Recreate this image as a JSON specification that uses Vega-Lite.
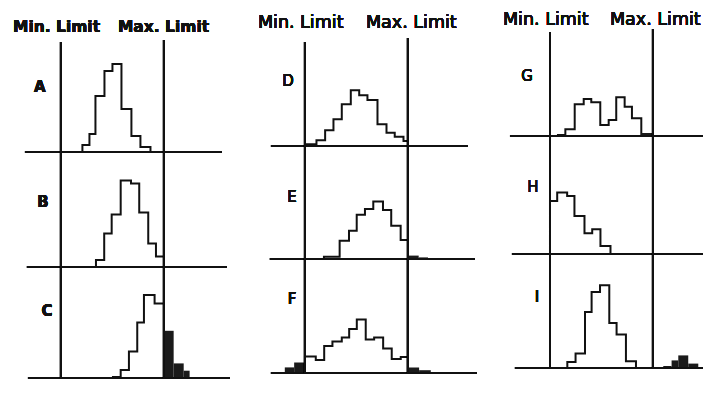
{
"$schema":"https://vega.github.io/schema/vega-lite/v6.json",
"padding":0,
"background":"white",
"config":{"view":{"stroke":null}},
"spacing":0,
"hconcat":[
{"vconcat":[
{"width":240,"height":152,
"data":{"values":[
{"x":2.5,"x2":3.32,"h":3.5,"out":false},{"x":3.32,"x2":4.02,"h":9,"out":false},{"x":4.02,"x2":5.07,"h":28,"out":false},{"x":5.07,"x2":6.0,"h":40.5,"out":false},{"x":6.0,"x2":7.05,"h":44,"out":false},{"x":7.05,"x2":8.21,"h":21.5,"out":false},{"x":8.21,"x2":9.26,"h":8,"out":false},{"x":9.26,"x2":10.43,"h":2.5,"out":false}]},
"layer":[
{"transform":[{"filter":"!datum.out"},{"fold":["x","x2"],"as":["k","pos"]}],"mark":{"type":"area","orient":"vertical","fill":"white","fillOpacity":0,"stroke":"#111","strokeWidth":2},"encoding":{"x":{"field":"pos","type":"quantitative","scale":{"domain":[-7.1,20.86],"nice":false,"zero":false},"axis":null},"y":{"field":"h","type":"quantitative","stack":null,"scale":{"domain":[0,76],"nice":false,"zero":false},"axis":null}}},
{"transform":[{"filter":"datum.out"}],"mark":{"type":"rect","fill":"#1a1a1a"},"encoding":{"x":{"field":"x","type":"quantitative","scale":{"domain":[-7.1,20.86],"nice":false,"zero":false},"axis":null},"x2":{"field":"x2"},"y":{"field":"h","type":"quantitative","scale":{"domain":[0,76],"nice":false,"zero":false},"axis":null},"y2":{"datum":0}}},
{"mark":{"type":"rule","stroke":"#111","strokeWidth":2},"encoding":{"x":{"datum":-4.19,"scale":{"domain":[-7.1,20.86],"nice":false,"zero":false},"axis":null},"x2":{"datum":18.76},"y":{"datum":0,"scale":{"domain":[0,76],"nice":false,"zero":false},"axis":null}}},
{"mark":{"type":"rule","stroke":"#111","strokeWidth":2},"encoding":{"x":{"datum":0,"scale":{"domain":[-7.1,20.86],"nice":false,"zero":false},"axis":null},"y":{"datum":0,"scale":{"domain":[0,76],"nice":false,"zero":false},"axis":null},"y2":{"datum":55}}},
{"mark":{"type":"rule","stroke":"#111","strokeWidth":2},"encoding":{"x":{"datum":12,"scale":{"domain":[-7.1,20.86],"nice":false,"zero":false},"axis":null},"y":{"datum":0,"scale":{"domain":[0,76],"nice":false,"zero":false},"axis":null},"y2":{"datum":56}}},
{"mark":{"type":"text","text":"A","font":"DejaVu Sans","fontSize":15,"fontWeight":"bold","align":"center","baseline":"middle","fill":"#111"},"encoding":{"x":{"datum":-2.45,"scale":{"domain":[-7.1,20.86],"nice":false,"zero":false},"axis":null},"y":{"datum":32.5,"scale":{"domain":[0,76],"nice":false,"zero":false},"axis":null}}},
{"mark":{"type":"text","text":"Min. Limit","font":"DejaVu Sans","fontSize":15.5,"fontWeight":"bold","align":"left","baseline":"alphabetic","fill":"#111"},"encoding":{"x":{"datum":-5.59,"scale":{"domain":[-7.1,20.86],"nice":false,"zero":false},"axis":null},"y":{"datum":60,"scale":{"domain":[0,76],"nice":false,"zero":false},"axis":null}}},
{"mark":{"type":"text","text":"Max. Limit","font":"DejaVu Sans","fontSize":15.5,"fontWeight":"bold","align":"left","baseline":"alphabetic","fill":"#111"},"encoding":{"x":{"datum":6.64,"scale":{"domain":[-7.1,20.86],"nice":false,"zero":false},"axis":null},"y":{"datum":60,"scale":{"domain":[0,76],"nice":false,"zero":false},"axis":null}}}
]},
{"width":240,"height":115,
"data":{"values":[
{"x":4.08,"x2":5.04,"h":3.5,"out":false},{"x":5.04,"x2":5.91,"h":16.7,"out":false},{"x":5.91,"x2":6.96,"h":26.3,"out":false},{"x":6.96,"x2":8.16,"h":43.3,"out":false},{"x":8.16,"x2":9.12,"h":41.8,"out":false},{"x":9.12,"x2":10.17,"h":27.2,"out":false},{"x":10.17,"x2":11.07,"h":11.7,"out":false},{"x":11.07,"x2":12.0,"h":5.2,"out":false}]},
"layer":[
{"transform":[{"filter":"!datum.out"},{"fold":["x","x2"],"as":["k","pos"]}],"mark":{"type":"area","orient":"vertical","fill":"white","fillOpacity":0,"stroke":"#111","strokeWidth":2},"encoding":{"x":{"field":"pos","type":"quantitative","scale":{"domain":[-7.1,20.86],"nice":false,"zero":false},"axis":null},"y":{"field":"h","type":"quantitative","stack":null,"scale":{"domain":[0,57.5],"nice":false,"zero":false},"axis":null}}},
{"transform":[{"filter":"datum.out"}],"mark":{"type":"rect","fill":"#1a1a1a"},"encoding":{"x":{"field":"x","type":"quantitative","scale":{"domain":[-7.1,20.86],"nice":false,"zero":false},"axis":null},"x2":{"field":"x2"},"y":{"field":"h","type":"quantitative","scale":{"domain":[0,57.5],"nice":false,"zero":false},"axis":null},"y2":{"datum":0}}},
{"mark":{"type":"rule","stroke":"#111","strokeWidth":2},"encoding":{"x":{"datum":-3.96,"scale":{"domain":[-7.1,20.86],"nice":false,"zero":false},"axis":null},"x2":{"datum":19.34},"y":{"datum":0,"scale":{"domain":[0,57.5],"nice":false,"zero":false},"axis":null}}},
{"mark":{"type":"rule","stroke":"#111","strokeWidth":2},"encoding":{"x":{"datum":0,"scale":{"domain":[-7.1,20.86],"nice":false,"zero":false},"axis":null},"y":{"datum":0,"scale":{"domain":[0,57.5],"nice":false,"zero":false},"axis":null},"y2":{"datum":57.5}}},
{"mark":{"type":"rule","stroke":"#111","strokeWidth":2},"encoding":{"x":{"datum":12,"scale":{"domain":[-7.1,20.86],"nice":false,"zero":false},"axis":null},"y":{"datum":0,"scale":{"domain":[0,57.5],"nice":false,"zero":false},"axis":null},"y2":{"datum":57.5}}},
{"mark":{"type":"text","text":"B","font":"DejaVu Sans","fontSize":15,"fontWeight":"bold","align":"center","baseline":"middle","fill":"#111"},"encoding":{"x":{"datum":-2.1,"scale":{"domain":[-7.1,20.86],"nice":false,"zero":false},"axis":null},"y":{"datum":32.5,"scale":{"domain":[0,57.5],"nice":false,"zero":false},"axis":null}}}
]},
{"width":240,"height":111,
"data":{"values":[
{"x":6.06,"x2":6.96,"h":0.5,"out":false},{"x":6.96,"x2":7.92,"h":4,"out":false},{"x":7.92,"x2":8.89,"h":13.2,"out":false},{"x":8.89,"x2":9.67,"h":27.7,"out":false},{"x":9.67,"x2":10.91,"h":41.5,"out":false},{"x":10.91,"x2":12.0,"h":37.2,"out":false},
{"x":12.0,"x2":13.13,"h":23.6,"out":true},{"x":13.13,"x2":14.3,"h":7.3,"out":true},{"x":14.3,"x2":14.99,"h":3.65,"out":true}]},
"layer":[
{"transform":[{"filter":"!datum.out"},{"fold":["x","x2"],"as":["k","pos"]}],"mark":{"type":"area","orient":"vertical","fill":"white","fillOpacity":0,"stroke":"#111","strokeWidth":2},"encoding":{"x":{"field":"pos","type":"quantitative","scale":{"domain":[-7.1,20.86],"nice":false,"zero":false},"axis":null},"y":{"field":"h","type":"quantitative","stack":null,"scale":{"domain":[0,55.5],"nice":false,"zero":false},"axis":null}}},
{"transform":[{"filter":"datum.out"}],"mark":{"type":"rect","fill":"#1a1a1a"},"encoding":{"x":{"field":"x","type":"quantitative","scale":{"domain":[-7.1,20.86],"nice":false,"zero":false},"axis":null},"x2":{"field":"x2"},"y":{"field":"h","type":"quantitative","scale":{"domain":[0,55.5],"nice":false,"zero":false},"axis":null},"y2":{"datum":0}}},
{"mark":{"type":"rule","stroke":"#111","strokeWidth":2},"encoding":{"x":{"datum":-3.84,"scale":{"domain":[-7.1,20.86],"nice":false,"zero":false},"axis":null},"x2":{"datum":19.69},"y":{"datum":0,"scale":{"domain":[0,55.5],"nice":false,"zero":false},"axis":null}}},
{"mark":{"type":"rule","stroke":"#111","strokeWidth":2},"encoding":{"x":{"datum":0,"scale":{"domain":[-7.1,20.86],"nice":false,"zero":false},"axis":null},"y":{"datum":0,"scale":{"domain":[0,55.5],"nice":false,"zero":false},"axis":null},"y2":{"datum":55.5}}},
{"mark":{"type":"rule","stroke":"#111","strokeWidth":2},"encoding":{"x":{"datum":12,"scale":{"domain":[-7.1,20.86],"nice":false,"zero":false},"axis":null},"y":{"datum":0,"scale":{"domain":[0,55.5],"nice":false,"zero":false},"axis":null},"y2":{"datum":55.5}}},
{"mark":{"type":"text","text":"C","font":"DejaVu Sans","fontSize":15,"fontWeight":"bold","align":"center","baseline":"middle","fill":"#111"},"encoding":{"x":{"datum":-1.63,"scale":{"domain":[-7.1,20.86],"nice":false,"zero":false},"axis":null},"y":{"datum":33.5,"scale":{"domain":[0,55.5],"nice":false,"zero":false},"axis":null}}}
]}
],"spacing":0,"bounds":"flush"},
{"vconcat":[
{"width":250,"height":146,
"data":{"values":[
{"x":0,"x2":1.34,"h":0.85,"out":false},{"x":1.34,"x2":2.35,"h":2.85,"out":false},{"x":2.35,"x2":3.32,"h":7.85,"out":false},{"x":3.32,"x2":4.29,"h":13.35,"out":false},{"x":4.29,"x2":5.34,"h":20.85,"out":false},{"x":5.34,"x2":6.32,"h":27.85,"out":false},{"x":6.32,"x2":7.28,"h":25.35,"out":false},{"x":7.28,"x2":8.45,"h":23,"out":false},{"x":8.45,"x2":9.5,"h":10.85,"out":false},{"x":9.5,"x2":10.46,"h":6.65,"out":false},{"x":10.46,"x2":11.48,"h":4.65,"out":false},{"x":11.48,"x2":12.0,"h":2.5,"out":false}]},
"layer":[
{"transform":[{"filter":"!datum.out"},{"fold":["x","x2"],"as":["k","pos"]}],"mark":{"type":"area","orient":"vertical","fill":"white","fillOpacity":0,"stroke":"#111","strokeWidth":2},"encoding":{"x":{"field":"pos","type":"quantitative","scale":{"domain":[-7.57,21.56],"nice":false,"zero":false},"axis":null},"y":{"field":"h","type":"quantitative","stack":null,"scale":{"domain":[0,73],"nice":false,"zero":false},"axis":null}}},
{"transform":[{"filter":"datum.out"}],"mark":{"type":"rect","fill":"#1a1a1a"},"encoding":{"x":{"field":"x","type":"quantitative","scale":{"domain":[-7.57,21.56],"nice":false,"zero":false},"axis":null},"x2":{"field":"x2"},"y":{"field":"h","type":"quantitative","scale":{"domain":[0,73],"nice":false,"zero":false},"axis":null},"y2":{"datum":0}}},
{"mark":{"type":"rule","stroke":"#111","strokeWidth":2},"encoding":{"x":{"datum":-3.96,"scale":{"domain":[-7.57,21.56],"nice":false,"zero":false},"axis":null},"x2":{"datum":18.99},"y":{"datum":0,"scale":{"domain":[0,73],"nice":false,"zero":false},"axis":null}}},
{"mark":{"type":"rule","stroke":"#111","strokeWidth":2},"encoding":{"x":{"datum":0,"scale":{"domain":[-7.57,21.56],"nice":false,"zero":false},"axis":null},"y":{"datum":0,"scale":{"domain":[0,73],"nice":false,"zero":false},"axis":null},"y2":{"datum":52}}},
{"mark":{"type":"rule","stroke":"#111","strokeWidth":2},"encoding":{"x":{"datum":12,"scale":{"domain":[-7.57,21.56],"nice":false,"zero":false},"axis":null},"y":{"datum":0,"scale":{"domain":[0,73],"nice":false,"zero":false},"axis":null},"y2":{"datum":54}}},
{"mark":{"type":"text","text":"D","font":"DejaVu Sans","fontSize":15,"align":"center","baseline":"middle","fill":"#111"},"encoding":{"x":{"datum":-1.98,"scale":{"domain":[-7.57,21.56],"nice":false,"zero":false},"axis":null},"y":{"datum":32.5,"scale":{"domain":[0,73],"nice":false,"zero":false},"axis":null}}},
{"mark":{"type":"text","text":"Min. Limit","font":"DejaVu Sans","fontSize":17.5,"align":"left","baseline":"alphabetic","fill":"#111"},"encoding":{"x":{"datum":-5.48,"scale":{"domain":[-7.57,21.56],"nice":false,"zero":false},"axis":null},"y":{"datum":59,"scale":{"domain":[0,73],"nice":false,"zero":false},"axis":null}}},
{"mark":{"type":"text","text":"Max. Limit","font":"DejaVu Sans","fontSize":17.5,"align":"left","baseline":"alphabetic","fill":"#111"},"encoding":{"x":{"datum":7.11,"scale":{"domain":[-7.57,21.56],"nice":false,"zero":false},"axis":null},"y":{"datum":59,"scale":{"domain":[0,73],"nice":false,"zero":false},"axis":null}}}
]},
{"width":250,"height":113,
"data":{"values":[
{"x":2.21,"x2":4.04,"h":1.15,"out":false},{"x":4.04,"x2":5.13,"h":9.15,"out":false},{"x":5.13,"x2":6.03,"h":14.15,"out":false},{"x":6.03,"x2":6.99,"h":22.15,"out":false},{"x":6.99,"x2":7.96,"h":25,"out":false},{"x":7.96,"x2":9.09,"h":28.8,"out":false},{"x":9.09,"x2":10.05,"h":24.5,"out":false},{"x":10.05,"x2":11.15,"h":16.65,"out":false},{"x":11.15,"x2":12.0,"h":9.5,"out":false},
{"x":12.0,"x2":13.25,"h":1.7,"out":true},{"x":13.25,"x2":14.33,"h":0.8,"out":true}]},
"layer":[
{"transform":[{"filter":"!datum.out"},{"fold":["x","x2"],"as":["k","pos"]}],"mark":{"type":"area","orient":"vertical","fill":"white","fillOpacity":0,"stroke":"#111","strokeWidth":2},"encoding":{"x":{"field":"pos","type":"quantitative","scale":{"domain":[-7.57,21.56],"nice":false,"zero":false},"axis":null},"y":{"field":"h","type":"quantitative","stack":null,"scale":{"domain":[0,56.5],"nice":false,"zero":false},"axis":null}}},
{"transform":[{"filter":"datum.out"}],"mark":{"type":"rect","fill":"#1a1a1a"},"encoding":{"x":{"field":"x","type":"quantitative","scale":{"domain":[-7.57,21.56],"nice":false,"zero":false},"axis":null},"x2":{"field":"x2"},"y":{"field":"h","type":"quantitative","scale":{"domain":[0,56.5],"nice":false,"zero":false},"axis":null},"y2":{"datum":0}}},
{"mark":{"type":"rule","stroke":"#111","strokeWidth":2},"encoding":{"x":{"datum":-4.08,"scale":{"domain":[-7.57,21.56],"nice":false,"zero":false},"axis":null},"x2":{"datum":19.8},"y":{"datum":0,"scale":{"domain":[0,56.5],"nice":false,"zero":false},"axis":null}}},
{"mark":{"type":"rule","stroke":"#111","strokeWidth":2},"encoding":{"x":{"datum":0,"scale":{"domain":[-7.57,21.56],"nice":false,"zero":false},"axis":null},"y":{"datum":0,"scale":{"domain":[0,56.5],"nice":false,"zero":false},"axis":null},"y2":{"datum":56.5}}},
{"mark":{"type":"rule","stroke":"#111","strokeWidth":2},"encoding":{"x":{"datum":12,"scale":{"domain":[-7.57,21.56],"nice":false,"zero":false},"axis":null},"y":{"datum":0,"scale":{"domain":[0,56.5],"nice":false,"zero":false},"axis":null},"y2":{"datum":56.5}}},
{"mark":{"type":"text","text":"E","font":"DejaVu Sans","fontSize":15,"align":"center","baseline":"middle","fill":"#111"},"encoding":{"x":{"datum":-1.51,"scale":{"domain":[-7.57,21.56],"nice":false,"zero":false},"axis":null},"y":{"datum":31,"scale":{"domain":[0,56.5],"nice":false,"zero":false},"axis":null}}}
]},
{"width":250,"height":114,
"data":{"values":[
{"x":0,"x2":1.26,"h":8.2,"out":false},{"x":1.26,"x2":2.24,"h":6.5,"out":false},{"x":2.24,"x2":3.2,"h":13.5,"out":false},{"x":3.2,"x2":4.29,"h":15.7,"out":false},{"x":4.29,"x2":5.15,"h":17.8,"out":false},{"x":5.15,"x2":6.04,"h":22,"out":false},{"x":6.04,"x2":7.08,"h":26.8,"out":false},{"x":7.08,"x2":8.06,"h":16.8,"out":false},{"x":8.06,"x2":9.11,"h":17.8,"out":false},{"x":9.11,"x2":10.11,"h":12.3,"out":false},{"x":10.11,"x2":11.16,"h":7,"out":false},{"x":11.16,"x2":12.0,"h":8,"out":false},
{"x":-2.35,"x2":-1.26,"h":2.8,"out":true},{"x":-1.26,"x2":0,"h":5.3,"out":true},{"x":12.0,"x2":13.3,"h":2.8,"out":true},{"x":13.3,"x2":14.66,"h":1.4,"out":true}]},
"layer":[
{"transform":[{"filter":"!datum.out"},{"fold":["x","x2"],"as":["k","pos"]}],"mark":{"type":"area","orient":"vertical","fill":"white","fillOpacity":0,"stroke":"#111","strokeWidth":2},"encoding":{"x":{"field":"pos","type":"quantitative","scale":{"domain":[-7.57,21.56],"nice":false,"zero":false},"axis":null},"y":{"field":"h","type":"quantitative","stack":null,"scale":{"domain":[0,57],"nice":false,"zero":false},"axis":null}}},
{"transform":[{"filter":"datum.out"}],"mark":{"type":"rect","fill":"#1a1a1a"},"encoding":{"x":{"field":"x","type":"quantitative","scale":{"domain":[-7.57,21.56],"nice":false,"zero":false},"axis":null},"x2":{"field":"x2"},"y":{"field":"h","type":"quantitative","scale":{"domain":[0,57],"nice":false,"zero":false},"axis":null},"y2":{"datum":0}}},
{"mark":{"type":"rule","stroke":"#111","strokeWidth":2},"encoding":{"x":{"datum":-3.96,"scale":{"domain":[-7.57,21.56],"nice":false,"zero":false},"axis":null},"x2":{"datum":20.04},"y":{"datum":0,"scale":{"domain":[0,57],"nice":false,"zero":false},"axis":null}}},
{"mark":{"type":"rule","stroke":"#111","strokeWidth":2},"encoding":{"x":{"datum":0,"scale":{"domain":[-7.57,21.56],"nice":false,"zero":false},"axis":null},"y":{"datum":0,"scale":{"domain":[0,57],"nice":false,"zero":false},"axis":null},"y2":{"datum":57}}},
{"mark":{"type":"rule","stroke":"#111","strokeWidth":2},"encoding":{"x":{"datum":12,"scale":{"domain":[-7.57,21.56],"nice":false,"zero":false},"axis":null},"y":{"datum":0,"scale":{"domain":[0,57],"nice":false,"zero":false},"axis":null},"y2":{"datum":57}}},
{"mark":{"type":"text","text":"F","font":"DejaVu Sans","fontSize":15,"align":"center","baseline":"middle","fill":"#111"},"encoding":{"x":{"datum":-1.51,"scale":{"domain":[-7.57,21.56],"nice":false,"zero":false},"axis":null},"y":{"datum":37,"scale":{"domain":[0,57],"nice":false,"zero":false},"axis":null}}}
]}
],"spacing":0,"bounds":"flush"},
{"vconcat":[
{"width":213,"height":136,
"data":{"values":[
{"x":0.93,"x2":1.79,"h":0.5,"out":false},{"x":1.79,"x2":2.88,"h":3.35,"out":false},{"x":2.88,"x2":3.93,"h":15.85,"out":false},{"x":3.93,"x2":4.81,"h":18.5,"out":false},{"x":4.81,"x2":5.86,"h":16.85,"out":false},{"x":5.86,"x2":6.84,"h":5.5,"out":false},{"x":6.84,"x2":7.72,"h":8,"out":false},{"x":7.72,"x2":8.7,"h":19.35,"out":false},{"x":8.7,"x2":9.55,"h":14.65,"out":false},{"x":9.55,"x2":10.64,"h":8.85,"out":false},
{"x":10.64,"x2":12.0,"h":1.5,"out":true}]},
"layer":[
{"transform":[{"filter":"!datum.out"},{"fold":["x","x2"],"as":["k","pos"]}],"mark":{"type":"area","orient":"vertical","fill":"white","fillOpacity":0,"stroke":"#111","strokeWidth":2},"encoding":{"x":{"field":"pos","type":"quantitative","scale":{"domain":[-6.99,17.83],"nice":false,"zero":false},"axis":null},"y":{"field":"h","type":"quantitative","stack":null,"scale":{"domain":[0,68],"nice":false,"zero":false},"axis":null}}},
{"transform":[{"filter":"datum.out"}],"mark":{"type":"rect","fill":"#1a1a1a"},"encoding":{"x":{"field":"x","type":"quantitative","scale":{"domain":[-6.99,17.83],"nice":false,"zero":false},"axis":null},"x2":{"field":"x2"},"y":{"field":"h","type":"quantitative","scale":{"domain":[0,68],"nice":false,"zero":false},"axis":null},"y2":{"datum":0}}},
{"mark":{"type":"rule","stroke":"#111","strokeWidth":2},"encoding":{"x":{"datum":-4.66,"scale":{"domain":[-6.99,17.83],"nice":false,"zero":false},"axis":null},"x2":{"datum":17.83},"y":{"datum":0,"scale":{"domain":[0,68],"nice":false,"zero":false},"axis":null}}},
{"mark":{"type":"rule","stroke":"#111","strokeWidth":2},"encoding":{"x":{"datum":0,"scale":{"domain":[-6.99,17.83],"nice":false,"zero":false},"axis":null},"y":{"datum":0,"scale":{"domain":[0,68],"nice":false,"zero":false},"axis":null},"y2":{"datum":52}}},
{"mark":{"type":"rule","stroke":"#111","strokeWidth":2},"encoding":{"x":{"datum":12,"scale":{"domain":[-6.99,17.83],"nice":false,"zero":false},"axis":null},"y":{"datum":0,"scale":{"domain":[0,68],"nice":false,"zero":false},"axis":null},"y2":{"datum":53.5}}},
{"mark":{"type":"text","text":"G","font":"DejaVu Sans","fontSize":15,"align":"center","baseline":"middle","fill":"#111"},"encoding":{"x":{"datum":-2.68,"scale":{"domain":[-6.99,17.83],"nice":false,"zero":false},"axis":null},"y":{"datum":30,"scale":{"domain":[0,68],"nice":false,"zero":false},"axis":null}}},
{"mark":{"type":"text","text":"Min. Limit","font":"DejaVu Sans","fontSize":17.5,"align":"left","baseline":"alphabetic","fill":"#111"},"encoding":{"x":{"datum":-5.48,"scale":{"domain":[-6.99,17.83],"nice":false,"zero":false},"axis":null},"y":{"datum":55.5,"scale":{"domain":[0,68],"nice":false,"zero":false},"axis":null}}},
{"mark":{"type":"text","text":"Max. Limit","font":"DejaVu Sans","fontSize":17.5,"align":"left","baseline":"alphabetic","fill":"#111"},"encoding":{"x":{"datum":6.99,"scale":{"domain":[-6.99,17.83],"nice":false,"zero":false},"axis":null},"y":{"datum":55.5,"scale":{"domain":[0,68],"nice":false,"zero":false},"axis":null}}}
]},
{"width":213,"height":118,
"data":{"values":[
{"x":0,"x2":0.84,"h":26.5,"out":false},{"x":0.84,"x2":2.0,"h":30.7,"out":false},{"x":2.0,"x2":2.85,"h":29,"out":false},{"x":2.85,"x2":4.02,"h":19,"out":false},{"x":4.02,"x2":4.92,"h":10.35,"out":false},{"x":4.92,"x2":5.88,"h":12.35,"out":false},{"x":5.88,"x2":7.05,"h":4,"out":false}]},
"layer":[
{"transform":[{"filter":"!datum.out"},{"fold":["x","x2"],"as":["k","pos"]}],"mark":{"type":"area","orient":"vertical","fill":"white","fillOpacity":0,"stroke":"#111","strokeWidth":2},"encoding":{"x":{"field":"pos","type":"quantitative","scale":{"domain":[-6.99,17.83],"nice":false,"zero":false},"axis":null},"y":{"field":"h","type":"quantitative","stack":null,"scale":{"domain":[0,59],"nice":false,"zero":false},"axis":null}}},
{"transform":[{"filter":"datum.out"}],"mark":{"type":"rect","fill":"#1a1a1a"},"encoding":{"x":{"field":"x","type":"quantitative","scale":{"domain":[-6.99,17.83],"nice":false,"zero":false},"axis":null},"x2":{"field":"x2"},"y":{"field":"h","type":"quantitative","scale":{"domain":[0,59],"nice":false,"zero":false},"axis":null},"y2":{"datum":0}}},
{"mark":{"type":"rule","stroke":"#111","strokeWidth":2},"encoding":{"x":{"datum":-4.43,"scale":{"domain":[-6.99,17.83],"nice":false,"zero":false},"axis":null},"x2":{"datum":17.83},"y":{"datum":0,"scale":{"domain":[0,59],"nice":false,"zero":false},"axis":null}}},
{"mark":{"type":"rule","stroke":"#111","strokeWidth":2},"encoding":{"x":{"datum":0,"scale":{"domain":[-6.99,17.83],"nice":false,"zero":false},"axis":null},"y":{"datum":0,"scale":{"domain":[0,59],"nice":false,"zero":false},"axis":null},"y2":{"datum":59}}},
{"mark":{"type":"rule","stroke":"#111","strokeWidth":2},"encoding":{"x":{"datum":12,"scale":{"domain":[-6.99,17.83],"nice":false,"zero":false},"axis":null},"y":{"datum":0,"scale":{"domain":[0,59],"nice":false,"zero":false},"axis":null},"y2":{"datum":59}}},
{"mark":{"type":"text","text":"H","font":"DejaVu Sans","fontSize":15,"align":"center","baseline":"middle","fill":"#111"},"encoding":{"x":{"datum":-1.98,"scale":{"domain":[-6.99,17.83],"nice":false,"zero":false},"axis":null},"y":{"datum":33.5,"scale":{"domain":[0,59],"nice":false,"zero":false},"axis":null}}}
]},
{"width":213,"height":114,
"data":{"values":[
{"x":2.02,"x2":2.98,"h":3,"out":false},{"x":2.98,"x2":4.08,"h":7.2,"out":false},{"x":4.08,"x2":4.85,"h":28,"out":false},{"x":4.85,"x2":5.83,"h":38,"out":false},{"x":5.83,"x2":6.91,"h":41.35,"out":false},{"x":6.91,"x2":7.76,"h":22.5,"out":false},{"x":7.76,"x2":8.85,"h":16.7,"out":false},{"x":8.85,"x2":10.02,"h":3.35,"out":false},
{"x":13.2,"x2":14.17,"h":1,"out":true},{"x":14.17,"x2":14.95,"h":3.8,"out":true},{"x":14.95,"x2":16.11,"h":6.3,"out":true},{"x":16.11,"x2":17.28,"h":2.2,"out":true}]},
"layer":[
{"transform":[{"filter":"!datum.out"},{"fold":["x","x2"],"as":["k","pos"]}],"mark":{"type":"area","orient":"vertical","fill":"white","fillOpacity":0,"stroke":"#111","strokeWidth":2},"encoding":{"x":{"field":"pos","type":"quantitative","scale":{"domain":[-6.99,17.83],"nice":false,"zero":false},"axis":null},"y":{"field":"h","type":"quantitative","stack":null,"scale":{"domain":[0,57],"nice":false,"zero":false},"axis":null}}},
{"transform":[{"filter":"datum.out"}],"mark":{"type":"rect","fill":"#1a1a1a"},"encoding":{"x":{"field":"x","type":"quantitative","scale":{"domain":[-6.99,17.83],"nice":false,"zero":false},"axis":null},"x2":{"field":"x2"},"y":{"field":"h","type":"quantitative","scale":{"domain":[0,57],"nice":false,"zero":false},"axis":null},"y2":{"datum":0}}},
{"mark":{"type":"rule","stroke":"#111","strokeWidth":2},"encoding":{"x":{"datum":-4.08,"scale":{"domain":[-6.99,17.83],"nice":false,"zero":false},"axis":null},"x2":{"datum":17.83},"y":{"datum":0,"scale":{"domain":[0,57],"nice":false,"zero":false},"axis":null}}},
{"mark":{"type":"rule","stroke":"#111","strokeWidth":2},"encoding":{"x":{"datum":0,"scale":{"domain":[-6.99,17.83],"nice":false,"zero":false},"axis":null},"y":{"datum":0,"scale":{"domain":[0,57],"nice":false,"zero":false},"axis":null},"y2":{"datum":57}}},
{"mark":{"type":"rule","stroke":"#111","strokeWidth":2},"encoding":{"x":{"datum":12,"scale":{"domain":[-6.99,17.83],"nice":false,"zero":false},"axis":null},"y":{"datum":0,"scale":{"domain":[0,57],"nice":false,"zero":false},"axis":null},"y2":{"datum":57}}},
{"mark":{"type":"text","text":"I","font":"DejaVu Sans","fontSize":15,"align":"center","baseline":"middle","fill":"#111"},"encoding":{"x":{"datum":-1.51,"scale":{"domain":[-6.99,17.83],"nice":false,"zero":false},"axis":null},"y":{"datum":35.5,"scale":{"domain":[0,57],"nice":false,"zero":false},"axis":null}}}
]}
],"spacing":0,"bounds":"flush"}
]
}
